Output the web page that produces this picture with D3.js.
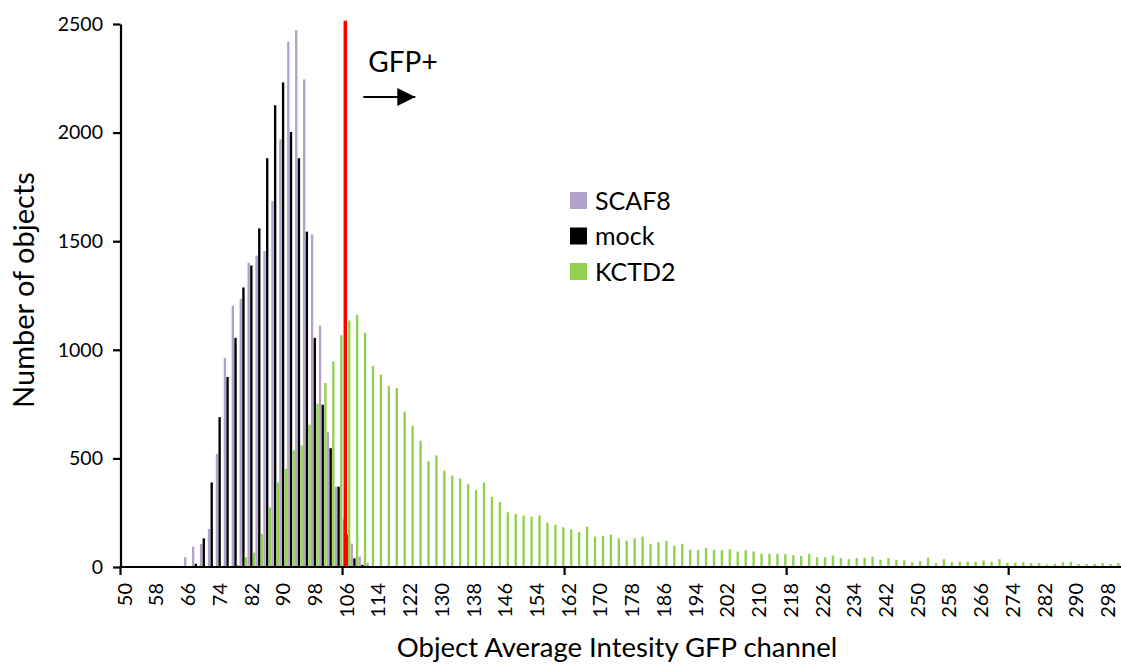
<!DOCTYPE html>
<html>
<head>
<meta charset="utf-8">
<script src="https://cdn.jsdelivr.net/npm/d3@7"></script>
<style>
  html, body { margin: 0; padding: 0; background: #fff; }
  svg { display: block; font-family: Lato, "Open Sans", sans-serif; }
</style>
</head>
<body>
<svg id="chart" width="1121" height="665"></svg>
<script>
// Intensity bins (object average GFP intensity, bin width 2)
const categories = [
  50, 52, 54, 56, 58, 60, 62, 64, 66, 68,
  70, 72, 74, 76, 78, 80, 82, 84, 86, 88,
  90, 92, 94, 96, 98, 100, 102, 104, 106, 108,
  110, 112, 114, 116, 118, 120, 122, 124, 126, 128,
  130, 132, 134, 136, 138, 140, 142, 144, 146, 148,
  150, 152, 154, 156, 158, 160, 162, 164, 166, 168,
  170, 172, 174, 176, 178, 180, 182, 184, 186, 188,
  190, 192, 194, 196, 198, 200, 202, 204, 206, 208,
  210, 212, 214, 216, 218, 220, 222, 224, 226, 228,
  230, 232, 234, 236, 238, 240, 242, 244, 246, 248,
  250, 252, 254, 256, 258, 260, 262, 264, 266, 268,
  270, 272, 274, 276, 278, 280, 282, 284, 286, 288,
  290, 292, 294, 296, 298, 300
];

// Object counts per bin
const scaf8 = [
  0, 0, 0, 0, 0, 0, 0, 5, 45, 94,
  106, 175, 520, 963, 1204, 1235, 1401, 1434, 1455, 1685,
  1969, 2418, 2472, 2245, 1531, 1112, 620, 370, 220, 108,
  48, 18, 5, 0, 0, 0, 0, 0, 0, 0,
  0, 0, 0, 0, 0, 0, 0, 0, 0, 0,
  0, 0, 0, 0, 0, 0, 0, 0, 0, 0,
  0, 0, 0, 0, 0, 0, 0, 0, 0, 0,
  0, 0, 0, 0, 0, 0, 0, 0, 0, 0,
  0, 0, 0, 0, 0, 0, 0, 0, 0, 0,
  0, 0, 0, 0, 0, 0, 0, 0, 0, 0,
  0, 0, 0, 0, 0, 0, 0, 0, 0, 0,
  0, 0, 0, 0, 0, 0, 0, 0, 0, 0,
  0, 0, 0, 0, 0, 0
];

const mock = [
  0, 0, 0, 0, 0, 0, 0, 0, 3, 15,
  132, 389, 690, 875, 1055, 1287, 1388, 1559, 1882, 2126,
  2231, 2003, 1882, 1544, 1055, 747, 547, 370, 150, 40,
  10, 3, 0, 0, 0, 0, 0, 0, 0, 0,
  0, 0, 0, 0, 0, 0, 0, 0, 0, 0,
  0, 0, 0, 0, 0, 0, 0, 0, 0, 0,
  0, 0, 0, 0, 0, 0, 0, 0, 0, 0,
  0, 0, 0, 0, 0, 0, 0, 0, 0, 0,
  0, 0, 0, 0, 0, 0, 0, 0, 0, 0,
  0, 0, 0, 0, 0, 0, 0, 0, 0, 0,
  0, 0, 0, 0, 0, 0, 0, 0, 0, 0,
  0, 0, 0, 0, 0, 0, 0, 0, 0, 0,
  0, 0, 0, 0, 0, 0
];

const kctd2 = [
  0, 0, 0, 0, 0, 0, 0, 0, 0, 0,
  0, 0, 0, 3, 10, 45, 66, 152, 274, 389,
  452, 537, 560, 655, 752, 847, 947, 1067, 1135, 1161,
  1079, 926, 886, 833, 824, 715, 650, 581, 487, 514,
  443, 421, 407, 381, 355, 389, 323, 300, 252, 244,
  237, 231, 238, 204, 194, 183, 174, 160, 186, 140,
  144, 149, 132, 121, 132, 140, 105, 114, 121, 98,
  107, 80, 78, 88, 80, 78, 81, 71, 77, 72,
  61, 61, 61, 60, 54, 51, 60, 45, 45, 53,
  41, 36, 41, 43, 48, 33, 41, 33, 31, 22,
  27, 43, 18, 36, 22, 25, 25, 24, 30, 25,
  36, 19, 20, 22, 18, 18, 11, 15, 22, 24,
  14, 14, 15, 18, 14, 17
];

const seriesNames = ["SCAF8", "mock", "KCTD2"];
const seriesColors = ["#b3a2c7", "#000000", "#92d050"];
const seriesValues = [scaf8, mock, kctd2];

// Axis labelling
const xTickLabels = [50, 58, 66, 74, 82, 90, 98, 106, 114, 122, 130, 138, 146, 154, 162, 170,
                     178, 186, 194, 202, 210, 218, 226, 234, 242, 250, 258, 266, 274, 282, 290, 298];
const xTickMarks = [50, 106, 162, 218, 274];
const yTicks = [0, 500, 1000, 1500, 2000, 2500];

// GFP+ gate threshold
const gfpThreshold = 106;
const gfpLineTopValue = 2515;

const svg = d3.select("#chart");
const W = 1121, H = 665;
const margin = { top: 24, right: 1.3, bottom: 98, left: 120.5 };
const plotBottom = H - margin.bottom;

const x = d3.scaleBand()
  .domain(categories)
  .range([margin.left, W - margin.right])
  .paddingInner(0)
  .paddingOuter(0);

const xs = d3.scaleBand()
  .domain(seriesNames)
  .range([0, x.bandwidth()])
  .paddingInner(0.12)
  .paddingOuter(0.04);

const y = d3.scaleLinear()
  .domain([0, 2500])
  .range([plotBottom, margin.top]);

// Bars
const barData = [];
seriesNames.forEach((name, s) => {
  categories.forEach((c, i) => {
    const v = seriesValues[s][i];
    if (v > 0) barData.push({ name, color: seriesColors[s], cat: c, value: v });
  });
});

svg.append("g")
  .selectAll("rect")
  .data(barData)
  .join("rect")
  .attr("x", d => x(d.cat) + xs(d.name))
  .attr("width", xs.bandwidth())
  .attr("y", d => y(d.value))
  .attr("height", d => y(0) - y(d.value))
  .attr("fill", d => d.color);

// Threshold line
const gx = x(gfpThreshold) + x.bandwidth() * 0.35;
svg.append("line")
  .attr("x1", gx).attr("x2", gx)
  .attr("y1", y(gfpLineTopValue)).attr("y2", y(0))
  .attr("stroke", "#ff0000")
  .attr("stroke-width", 3.5);

// Y axis
const yAxis = svg.append("g")
  .attr("transform", `translate(${margin.left},0)`)
  .call(d3.axisLeft(y).tickValues(yTicks).tickSize(7.5).tickSizeOuter(0).tickPadding(10).tickFormat(d3.format("d")));
yAxis.select(".domain").attr("stroke", "#000").attr("stroke-width", 2.2);
yAxis.selectAll(".tick line").attr("stroke", "#000").attr("stroke-width", 2.2);
yAxis.selectAll(".tick text")
  .attr("font-family", "Lato, sans-serif")
  .attr("font-size", 19.5)
  .attr("fill", "#000");

// X axis
const xAxisG = svg.append("g").attr("transform", `translate(0,${plotBottom})`);
xAxisG.append("line")
  .attr("x1", margin.left - 1).attr("x2", W)
  .attr("y1", 0).attr("y2", 0)
  .attr("stroke", "#000").attr("stroke-width", 2.2);
xAxisG.selectAll("line.tick")
  .data(xTickMarks)
  .join("line")
  .attr("class", "tick")
  .attr("x1", d => x(d)).attr("x2", d => x(d))
  .attr("y1", 0).attr("y2", 8)
  .attr("stroke", "#000").attr("stroke-width", 2.2);
xAxisG.selectAll("text.lbl")
  .data(xTickLabels)
  .join("text")
  .attr("class", "lbl")
  .attr("transform", d => `translate(${x(d) + x.bandwidth() / 2},16) rotate(-90)`)
  .attr("text-anchor", "end")
  .attr("dy", "0.36em")
  .attr("font-size", 20)
  .attr("fill", "#000")
  .text(d => d);

// Axis titles
svg.append("text")
  .attr("x", 617).attr("y", 657)
  .attr("text-anchor", "middle")
  .attr("font-size", 27.5)
  .attr("fill", "#000")
  .text("Object Average Intesity GFP channel");

svg.append("text")
  .attr("transform", "translate(34,290) rotate(-90)")
  .attr("text-anchor", "middle")
  .attr("font-size", 29)
  .attr("fill", "#000")
  .text("Number of objects");

// GFP+ annotation
svg.append("text")
  .attr("x", gx + 23).attr("y", 72)
  .attr("font-size", 28)
  .attr("fill", "#000")
  .text("GFP+");

svg.append("defs").append("marker")
  .attr("id", "arrowhead")
  .attr("viewBox", "0 0 10 10")
  .attr("refX", 10).attr("refY", 5)
  .attr("markerUnits", "userSpaceOnUse")
  .attr("markerWidth", 19).attr("markerHeight", 18)
  .attr("orient", "auto")
  .append("path")
  .attr("d", "M0,0 L10,5 L0,10 Z")
  .attr("fill", "#000");

svg.append("line")
  .attr("x1", gx + 18).attr("x2", gx + 70)
  .attr("y1", 97).attr("y2", 97)
  .attr("stroke", "#000")
  .attr("stroke-width", 2.2)
  .attr("marker-end", "url(#arrowhead)");

// Legend
const legend = svg.append("g").attr("transform", "translate(570,192)");
const rowH = 35.5;
seriesNames.forEach((name, i) => {
  const g = legend.append("g").attr("transform", `translate(0,${i * rowH})`);
  g.append("rect").attr("width", 17).attr("height", 17).attr("fill", seriesColors[i]);
  g.append("text")
    .attr("x", 25).attr("y", 8.5)
    .attr("dy", "0.36em")
    .attr("font-size", 25)
    .attr("fill", "#000")
    .text(name);
});
</script>
</body>
</html>
